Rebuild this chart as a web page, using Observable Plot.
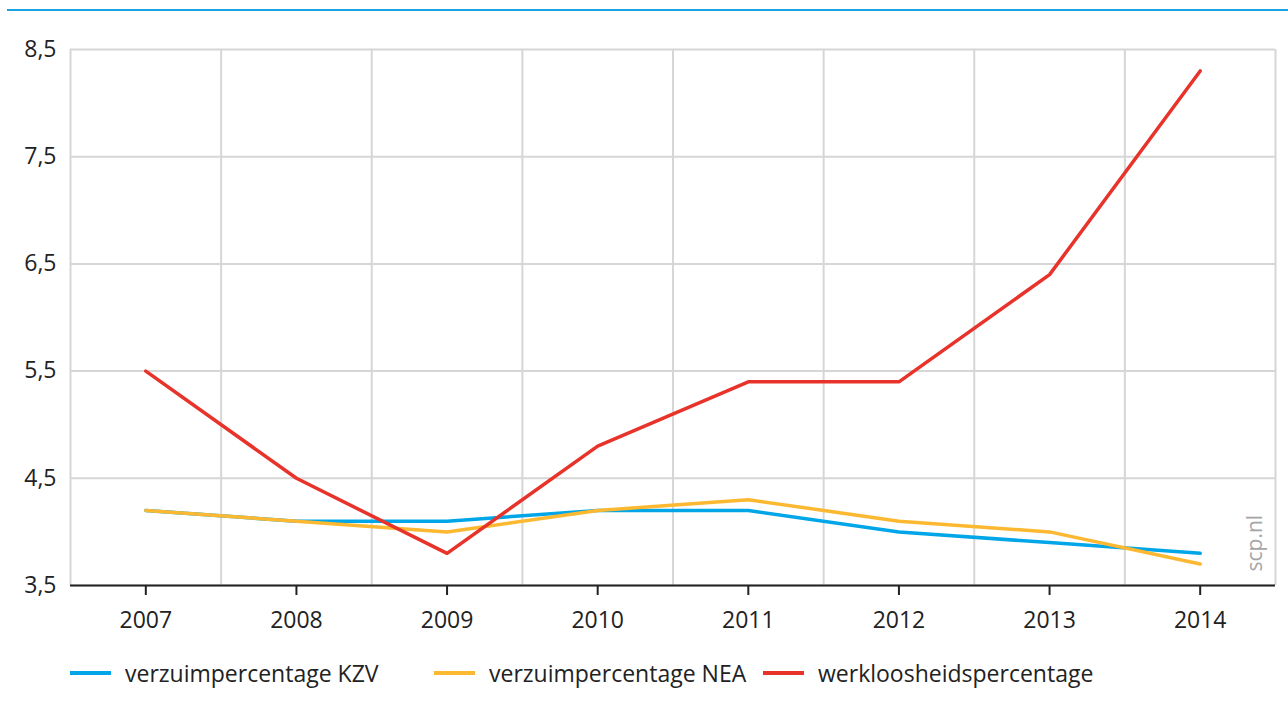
<!DOCTYPE html>
<html><head><meta charset="utf-8">
<script src="https://cdn.jsdelivr.net/npm/d3@7"></script>
<script src="https://cdn.jsdelivr.net/npm/@observablehq/plot@0.6"></script>
<style>
body{margin:0;background:#fff;font-family:"Open Sans",sans-serif;color:#222}
#wrap{position:relative;width:1288px;height:711px;overflow:hidden}
#topline{position:absolute;left:7px;right:0;top:9px;height:2px;background:#1aa3e3}
#chart{position:absolute;left:0;top:0}
.leg{position:absolute;top:657px;display:flex;align-items:center;font-size:23px;color:#222;white-space:nowrap}
.sw{width:41px;height:4px;margin-right:14px}
</style></head>
<body><div id="wrap"><div id="topline"></div><div id="chart"></div><div id="legend"></div></div>
<script>
const years = [2007, 2008, 2009, 2010, 2011, 2012, 2013, 2014];
const kzv = [4.2, 4.1, 4.1, 4.2, 4.2, 4.0, 3.9, 3.8];
const nea = [4.2, 4.1, 4.0, 4.2, 4.3, 4.1, 4.0, 3.7];
const werkloos = [5.5, 4.5, 3.8, 4.8, 5.4, 5.4, 6.4, 8.3];
const seriesNames = ["verzuimpercentage KZV", "verzuimpercentage NEA", "werkloosheidspercentage"];
const seriesColors = ["#00a6e8", "#fbb830", "#e8332a"];
const yTicks = [3.5, 4.5, 5.5, 6.5, 7.5, 8.5];
const legendLeft = [70, 434, 763];

const seriesValues = [kzv, nea, werkloos];
const rows = seriesValues.flatMap((vals, i) => years.map((yr, j) => ({year: yr, value: vals[j], series: seriesNames[i]})));
const gridX = years.map(y => y - 0.5).concat([years[years.length - 1] + 0.5]);
const fmt = d => d.toFixed(1).replace(".", ",");

const plot = Plot.plot({
  width: 1288,
  height: 640,
  marginTop: 49,
  marginLeft: 70,
  marginRight: 13,
  marginBottom: 55,
  style: {fontSize: "23px", fontFamily: "'Open Sans', sans-serif", color: "#222", background: "transparent"},
  x: {type: "linear", domain: [gridX[0], gridX[gridX.length - 1]], label: null},
  y: {domain: [yTicks[0], yTicks[yTicks.length - 1]], label: null},
  color: {domain: seriesNames, range: seriesColors},
  marks: [
    Plot.ruleY(yTicks, {stroke: "#d6d6d6", strokeWidth: 2}),
    Plot.ruleX(gridX, {stroke: "#d6d6d6", strokeWidth: 2}),
    Plot.axisY({ticks: yTicks, tickFormat: fmt, tickSize: 0, tickPadding: 14, fill: "#222", label: null}),
    Plot.axisX({ticks: years, tickFormat: d => String(d), tickSize: 10, tickPadding: 16, stroke: "#222", strokeWidth: 2, strokeOpacity: 1, fill: "#222", label: null}),
    Plot.line(rows, {x: "year", y: "value", z: "series", stroke: "series", strokeWidth: 3.5, strokeLinejoin: "round"}),
    Plot.ruleY([yTicks[0]], {stroke: "#222", strokeWidth: 2}),
    Plot.text(["scp.nl"], {frameAnchor: "bottom-right", dx: -20, dy: -14, rotate: -90, textAnchor: "start", lineAnchor: "middle", fill: "#a6a6a6", fontSize: 21})
  ]
});
document.getElementById("chart").appendChild(plot);

const legend = document.getElementById("legend");
seriesNames.forEach((name, i) => {
  const item = document.createElement("div");
  item.className = "leg";
  item.style.left = legendLeft[i] + "px";
  const sw = document.createElement("span");
  sw.className = "sw";
  sw.style.background = seriesColors[i];
  const t = document.createElement("span");
  t.textContent = name;
  item.appendChild(sw);
  item.appendChild(t);
  legend.appendChild(item);
});
</script></body></html>
